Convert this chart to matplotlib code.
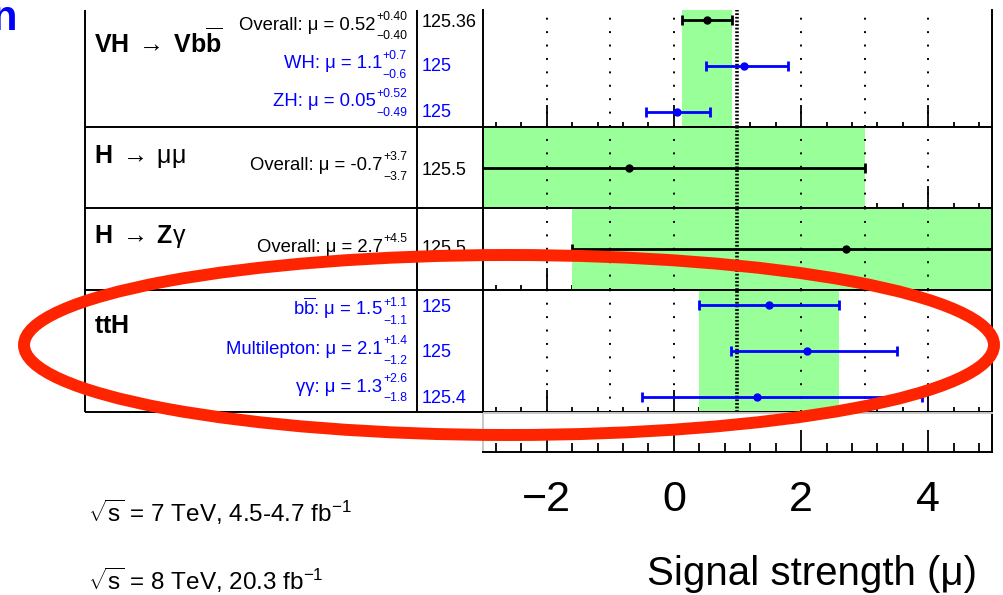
import matplotlib
matplotlib.use('Agg')
import matplotlib.pyplot as plt
from matplotlib.patches import Ellipse
from matplotlib.ticker import MultipleLocator
import numpy as np

plt.rcParams['font.family'] = ['Liberation Sans', 'DejaVu Sans']
plt.rcParams['mathtext.fontset'] = 'custom'
plt.rcParams['mathtext.rm'] = 'Liberation Sans'
plt.rcParams['mathtext.it'] = 'Liberation Sans:italic'
plt.rcParams['mathtext.bf'] = 'Liberation Sans:bold'

# ----------------------------------------
# Data (signal strengths per channel)
# ----------------------------------------
panel_titles = [r'$\mathbf{VH}\;\rightarrow\;\mathbf{Vb}\overline{\mathbf{b}}$',
                r'$\mathbf{H}\;\rightarrow\;\mathrm{\mu\mu}$',
                r'$\mathbf{H}\;\rightarrow\;\mathbf{Z}\mathrm{\gamma}$',
                r'$\mathbf{ttH}$']

vh_names = ['Overall', 'WH', 'ZH']
vh_mu = [0.52, 1.1, 0.05]
vh_up = [0.40, 0.7, 0.52]
vh_dn = [0.40, 0.6, 0.49]
vh_dec = [2, 1, 2]
vh_mass = ['125.36', '125', '125']
vh_colors = ['black', 'blue', 'blue']

mumu_names = ['Overall']
mumu_mu = [-0.7]
mumu_up = [3.7]
mumu_dn = [3.7]
mumu_dec = [1]
mumu_mass = ['125.5']
mumu_colors = ['black']

zg_names = ['Overall']
zg_mu = [2.7]
zg_up = [4.5]
zg_dn = [4.3]
zg_dec = [1]
zg_mass = ['125.5']
zg_colors = ['black']

tth_names = [r'b$\overline{\mathrm{b}}$', 'Multilepton', 'γγ']
tth_mu = [1.5, 2.1, 1.3]
tth_up = [1.1, 1.4, 2.6]
tth_dn = [1.1, 1.2, 1.8]
tth_dec = [1, 1, 1]
tth_mass = ['125', '125', '125.4']
tth_colors = ['blue', 'blue', 'blue']

panels = [
    (vh_names, vh_mu, vh_up, vh_dn, vh_dec, vh_mass, vh_colors),
    (mumu_names, mumu_mu, mumu_up, mumu_dn, mumu_dec, mumu_mass, mumu_colors),
    (zg_names, zg_mu, zg_up, zg_dn, zg_dec, zg_mass, zg_colors),
    (tth_names, tth_mu, tth_up, tth_dn, tth_dec, tth_mass, tth_colors),
]

# ----------------------------------------
# Layout (pixels)
# ----------------------------------------
W, H = 1004, 595
X0, X1 = 483, 992          # plot area
TAB_L, TAB_M = 85.5, 417   # table column lines
edges = [10, 127, 208, 289.5, 412]
ylims = [(2.326, -0.217), (0.5, -0.5), (0.5, -0.5), (2.34, -0.35)]
title_bl = [53, 162.7, 243.3, 333]
label_bl = [[29.5, 68.5, 106.5], [170], [251.7], [315, 354, 391.7]]
mass_bl = [[26.7, 71, 117], [175], [253.3], [311.7, 356.7, 403.3]]
LABEL_R = 407

green = '#99ff99'
grid_x = [-2, -1, 0, 2, 3, 4]

fig = plt.figure(figsize=(W / 100, H / 100), dpi=100)
renderer = fig.canvas.get_renderer()


def px_rect(x0, y0, x1, y1):
    return [x0 / W, 1 - y1 / H, (x1 - x0) / W, (y1 - y0) / H]


def setup_xaxis(ax, minor_len):
    ax.set_xlim(-3, 5)
    ax.xaxis.set_major_locator(MultipleLocator(2))
    ax.xaxis.set_minor_locator(MultipleLocator(0.4))
    ax.tick_params(axis='x', which='major', direction='in', length=15.8,
                   width=1.3, top=False, labelbottom=False)
    ax.tick_params(axis='x', which='minor', direction='in', length=minor_len,
                   width=1.3, top=False)
    ax.set_yticks([])
    for s in ax.spines.values():
        s.set_linewidth(1.4)


# ----------------------------------------
# Panels
# ----------------------------------------
for i, (names, mu, up, dn, dec, mass, colors) in enumerate(panels):
    ax = fig.add_axes(px_rect(X0, edges[i], X1, edges[i + 1]))
    setup_xaxis(ax, 3.8)
    ax.set_ylim(*ylims[i])
    ax.set_axisbelow(True)
    if i == 0:
        ax.spines['top'].set_visible(False)

    # band of the first measurement in the panel
    ax.axvspan(mu[0] - dn[0], mu[0] + up[0], color=green, lw=0, zorder=1)
    for g in grid_x:
        ax.axvline(g, color='k', lw=1.4, ls=(0, (1, 5.9)), zorder=2)
    ax.axvline(1, color='k', lw=2.6, ls=(0, (0.5, 0.5)), zorder=2.2)

    for r in range(len(mu)):
        ax.errorbar(mu[r], r, xerr=[[dn[r]], [up[r]]], fmt='o', color=colors[r],
                    ms=5, lw=2, capsize=3.8, capthick=2, zorder=3)

# bottom axis box with tick labels
axb = fig.add_axes(px_rect(X0, 413, X1, 452))
setup_xaxis(axb, 6.5)
axb.tick_params(axis='x', which='major', labelbottom=True, labelsize=31, pad=20)
axb.spines['top'].set_color('#c8c8c8')
axb.spines['left'].set_color('#c8c8c8')
axb.set_xlabel('Signal strength (μ)', fontsize=29, ha='right', va='baseline')
axb.xaxis.set_label_coords((977 - X0) / (X1 - X0), (452 - 585) / 39)

# ----------------------------------------
# Table and annotations (pixel canvas)
# ----------------------------------------
axc = fig.add_axes([0, 0, 1, 1], zorder=10)
axc.set_xlim(0, W)
axc.set_ylim(H, 0)
axc.axis('off')
axc.patch.set_alpha(0)

axc.vlines([TAB_L, TAB_M], edges[0], edges[-1], color='k', lw=1.4)
axc.hlines(edges[1:], TAB_L, X0, color='k', lw=1.4)


def put_right(x, y, s, size, color):
    t = axc.text(x, y, s, fontsize=size, color=color, ha='right', va='baseline')
    return t.get_window_extent(renderer).width


for i, (names, mu, up, dn, dec, mass, colors) in enumerate(panels):
    axc.text(94, title_bl[i], panel_titles[i], fontsize=18, va='baseline')
    for r in range(len(mu)):
        d = dec[r]
        y = label_bl[i][r]
        # ROOT-style stacked super/subscript errors
        w_up = put_right(LABEL_R, y - 9.5, f'+{up[r]:.{d}f}', 8.7, colors[r])
        w_dn = put_right(LABEL_R, y + 9.5, f'\u2212{dn[r]:.{d}f}', 8.7, colors[r])
        put_right(LABEL_R - max(w_up, w_dn) - 0.5, y,
                  f'{names[r]}: μ = {mu[r]:.{d}f}', 13.3, colors[r])
        axc.text(421.5, mass_bl[i][r], mass[r], fontsize=13, color=colors[r],
                 ha='left', va='baseline')

axc.text(88, 521.7, r'$\sqrt{\mathrm{s}}$ = 7 TeV, 4.5-4.7 fb$^{-1}$',
         fontsize=17.5, va='baseline')
axc.text(88, 590, r'$\sqrt{\mathrm{s}}$ = 8 TeV, 20.3 fb$^{-1}$',
         fontsize=17.5, va='baseline')

# cut-off blue letter at top-left
axc.text(-9, 30, 'n', fontsize=30, fontweight='bold', color='blue', va='baseline')

# red hand-drawn style ellipse
axc.add_patch(Ellipse((509, 345), 970, 180, fill=False, ec='#ff2400',
                      lw=8.6, zorder=10))

fig.savefig('out.png', dpi=100)
